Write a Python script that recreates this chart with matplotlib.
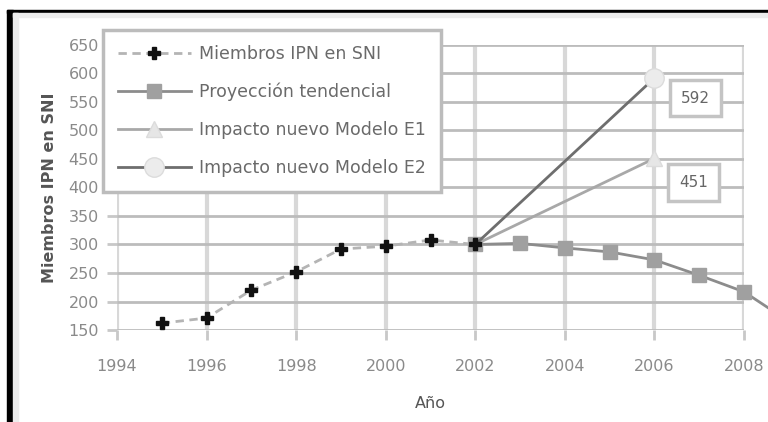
import matplotlib
matplotlib.use("Agg")
import matplotlib.pyplot as plt
from matplotlib.patches import Rectangle

plt.rcParams['font.family'] = ['DejaVu Sans']

# members of IPN in the SNI, actual counts
years_real = [1995, 1996, 1997, 1998, 1999, 2000, 2001, 2002]
members = [162, 171, 220, 252, 292, 297, 308, 300]

# trend projection
years_proj = [2002, 2003, 2004, 2005, 2006, 2007, 2008, 2009]
projection = [300, 302, 294, 287, 273, 246, 217, 165]

# impact of the new model, two scenarios
years_model = [2002, 2006]
model_e1 = [300, 451]
model_e2 = [300, 592]

xticks = [1994, 1996, 1998, 2000, 2002, 2004, 2006, 2008]
yticks = [150, 200, 250, 300, 350, 400, 450, 500, 550, 600, 650]

fig = plt.figure(figsize=(7.68, 4.22), dpi=100)
ax = fig.add_axes([117/768, 1 - 330/422, (744 - 117)/768, (330 - 45)/422])

tick_col = '#8a8a8a'

ax.plot(years_proj, projection, color='#8c8c8c', lw=2, marker='s', ms=10,
        mfc='#a0a0a0', mec='#a0a0a0', clip_on=False, zorder=3,
        label='Proyección tendencial')
ax.plot(years_model, model_e1, color='#a8a8a8', lw=2, marker='^', ms=12,
        mfc='#e6e6e6', mec='#dcdcdc', zorder=3, markevery=[1],
        label='Impacto nuevo Modelo E1')
ax.plot(years_model, model_e2, color='#6e6e6e', lw=2, marker='o', ms=14,
        mfc='#ececec', mec='#dcdcdc', zorder=3, markevery=[1],
        label='Impacto nuevo Modelo E2')
ax.plot(years_real, members, color='#b4b4b4', lw=2, ls=(0, (3, 2)),
        marker='P', ms=9, mfc='#111111', mec='#111111', zorder=4,
        label='Miembros IPN en SNI')

# value boxes at the 2006 end points
box = dict(boxstyle='square,pad=0.7', fc='white', ec='#c4c4c4', lw=2.5)
ax.annotate(str(model_e2[1]), xy=(years_model[1], model_e2[1]),
            xytext=(41, -20), textcoords='offset pixels', ha='center',
            va='center', fontsize=11, color='#666666', bbox=box)
ax.annotate(str(model_e1[1]), xy=(years_model[1], model_e1[1]),
            xytext=(39, -24), textcoords='offset pixels', ha='center',
            va='center', fontsize=11, color='#666666', bbox=box)

ax.set_xlim(1994, 2008)
ax.set_ylim(150, 650)
ax.set_xticks(xticks)
ax.set_yticks(yticks)
ax.tick_params(axis='both', colors='#c8c8c8', labelcolor=tick_col,
               labelsize=11.5, length=7, width=2)
ax.tick_params(axis='x', pad=14)
ax.tick_params(axis='y', pad=6)
ax.grid(axis='y', color='#bcbcbc', lw=2)
ax.grid(axis='x', color='#d8d8d8', lw=3)
ax.set_axisbelow(True)
for s in ax.spines.values():
    s.set_visible(False)

ax.set_ylabel('Miembros IPN en SNI', fontsize=11.5, fontweight='bold',
              color='#555555', labelpad=8)
ax.set_xlabel('Año', fontsize=11.5, color='#555555', labelpad=16)

handles, labels = ax.get_legend_handles_labels()
order = [3, 0, 1, 2]
leg = ax.legend([handles[i] for i in order], [labels[i] for i in order],
                loc='upper left', bbox_to_anchor=(103/768, 1 - 30/422),
                bbox_transform=fig.transFigure, fontsize=12.5,
                labelcolor='#6a6a6a', handlelength=4.2, labelspacing=1.15,
                borderpad=0.85, fancybox=False, framealpha=1,
                borderaxespad=0, handletextpad=0.5)
leg.get_frame().set_edgecolor('#bcbcbc')
leg.get_frame().set_linewidth(2.5)

# page frame around the chart
fig.patches.append(Rectangle((7/768, 0), 6/768, 1 - 10/422, color='black',
                             transform=fig.transFigure, figure=fig))
fig.patches.append(Rectangle((7/768, 1 - 13/422), 1, 3/422, color='black',
                             transform=fig.transFigure, figure=fig))
fig.patches.append(Rectangle((13/768, 0), 5/768, 1 - 13/422, color='#ececec',
                             transform=fig.transFigure, figure=fig))
fig.patches.append(Rectangle((13/768, 1 - 17/422), 1, 4/422, color='#ececec',
                             transform=fig.transFigure, figure=fig))

fig.savefig('out.png', dpi=100)
